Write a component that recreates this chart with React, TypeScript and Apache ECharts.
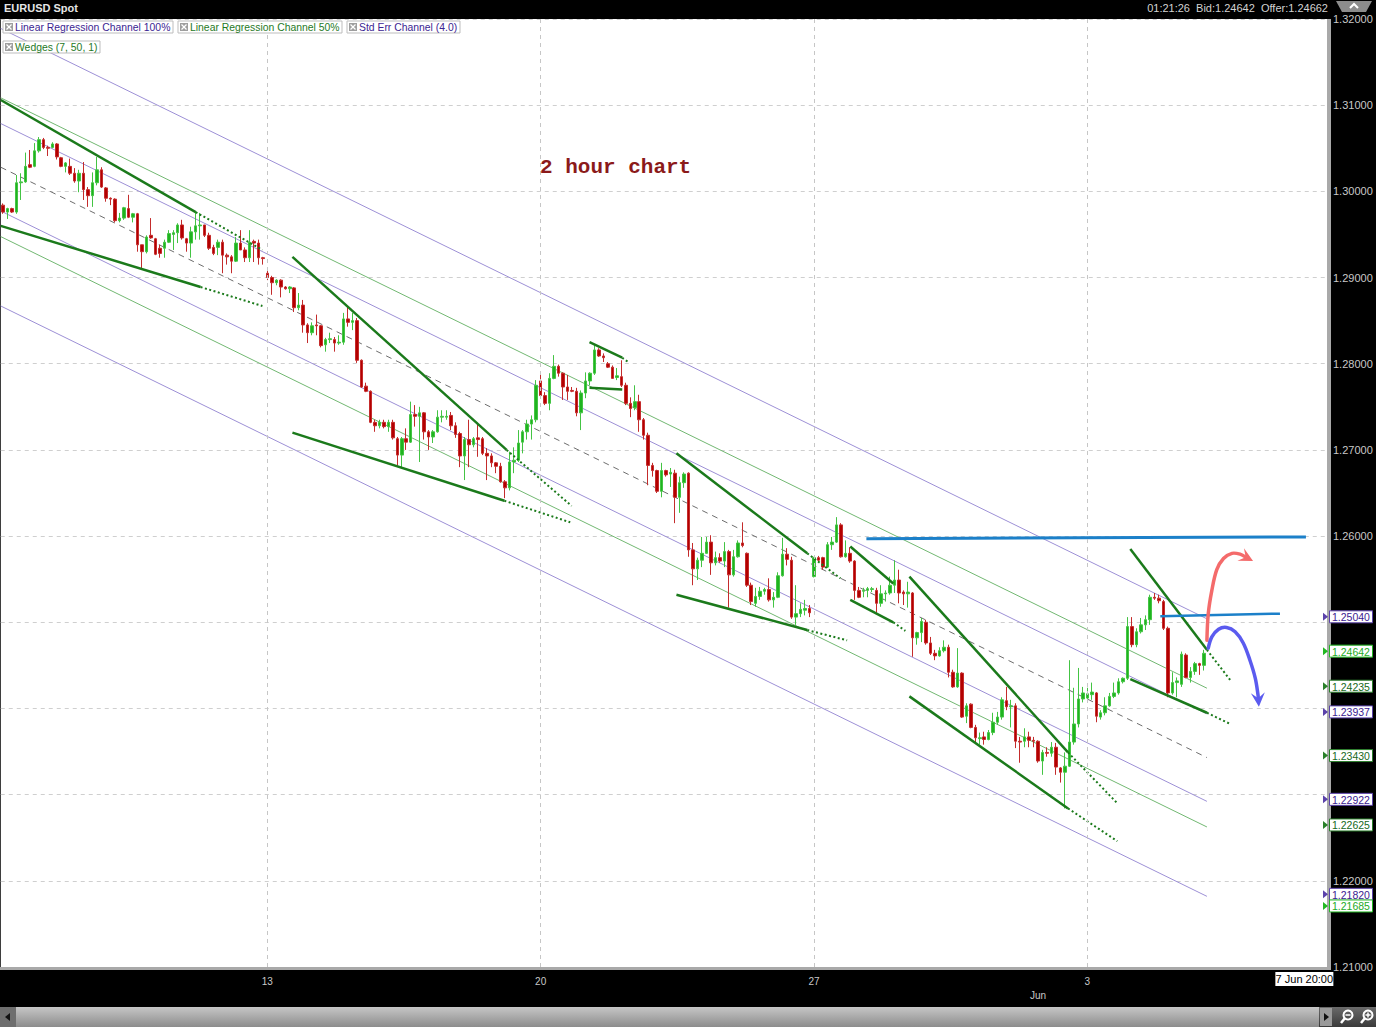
import React, { useEffect, useRef } from "react";
import * as echarts from "echarts";

// ---------- candles: [open, close, low, high] (2-hour EURUSD) ----------
const week1: number[][] = [
  [1.2984,1.2976,1.2974,1.2986],[1.2976,1.2980,1.2968,1.2981],[1.2980,1.2976,1.2975,1.2981],[1.2976,1.3010,1.2974,1.3019],
  [1.3010,1.3011,1.2990,1.3021],[1.3011,1.3029,1.3010,1.3045],[1.3031,1.3028,1.3027,1.3048],[1.3029,1.3047,1.3028,1.3056],
  [1.3047,1.3060,1.3045,1.3063],[1.3060,1.3051,1.3049,1.3062],[1.3051,1.3050,1.3041,1.3053],[1.3051,1.3055,1.3050,1.3057],
  [1.3055,1.3040,1.3037,1.3056],[1.3039,1.3029,1.3028,1.3040],[1.3029,1.3033,1.3022,1.3034],[1.3029,1.3021,1.3019,1.3038],
  [1.3021,1.3012,1.3010,1.3027],[1.3012,1.3021,1.2999,1.3025],[1.3021,1.3002,1.2990,1.3034],[1.3002,1.2995,1.2982,1.3005],
  [1.2995,1.3010,1.2982,1.3022],[1.3010,1.3025,1.3007,1.3040],[1.3025,1.3005,1.3004,1.3028],[1.3004,1.2992,1.2988,1.3005],
  [1.2992,1.2991,1.2984,1.2993],[1.2991,1.2966,1.2964,1.2992],[1.2966,1.2969,1.2964,1.2975],[1.2969,1.2981,1.2967,1.2982],
  [1.2980,1.2970,1.2969,1.2996],[1.2970,1.2974,1.2964,1.2975],[1.2974,1.2938,1.2930,1.2975],[1.2938,1.2930,1.2911,1.2938],
  [1.2930,1.2947,1.2928,1.2949],[1.2949,1.2946,1.2945,1.2969],[1.2945,1.2927,1.2926,1.2946],[1.2934,1.2928,1.2923,1.2938],
  [1.2934,1.2941,1.2923,1.2944],[1.2941,1.2951,1.2940,1.2955],[1.2950,1.2952,1.2932,1.2955],[1.2952,1.2961,1.2940,1.2963],
  [1.2961,1.2946,1.2944,1.2967],[1.2945,1.2940,1.2930,1.2946],[1.2940,1.2953,1.2923,1.2959],[1.2953,1.2960,1.2944,1.2976],
  [1.2960,1.2961,1.2944,1.2975],[1.2961,1.2949,1.2947,1.2961],[1.2949,1.2934,1.2932,1.2952],[1.2935,1.2928,1.2926,1.2938],
  [1.2935,1.2941,1.2926,1.2944],[1.2941,1.2926,1.2905,1.2944],[1.2926,1.2924,1.2915,1.2928],[1.2924,1.2919,1.2905,1.2926],
  [1.2919,1.2940,1.2918,1.2947],[1.2940,1.2932,1.2932,1.2955],[1.2932,1.2923,1.2918,1.2935],[1.2923,1.2941,1.2918,1.2955],
  [1.2942,1.2940,1.2918,1.2944],[1.2940,1.2923,1.2915,1.2944],[1.2923,1.2922,1.2915,1.2924],
];
const week2: number[][] = [
  [1.2905,1.2900,1.2897,1.2908],[1.2900,1.2894,1.2880,1.2902],[1.2894,1.2897,1.2891,1.2898],[1.2897,1.2889,1.2877,1.2898],
  [1.2889,1.2887,1.2886,1.2890],[1.2887,1.2889,1.2882,1.2890],[1.2888,1.2865,1.2860,1.2889],[1.2865,1.2868,1.2862,1.2882],
  [1.2868,1.2845,1.2836,1.2874],[1.2845,1.2836,1.2824,1.2847],[1.2836,1.2844,1.2833,1.2848],[1.2845,1.2844,1.2833,1.2857],
  [1.2844,1.2821,1.2819,1.2845],[1.2822,1.2828,1.2814,1.2830],[1.2828,1.2829,1.2824,1.2836],[1.2828,1.2824,1.2814,1.2831],
  [1.2824,1.2825,1.2822,1.2833],[1.2825,1.2852,1.2822,1.2859],[1.2852,1.2848,1.2843,1.2866],[1.2848,1.2850,1.2839,1.2859],
  [1.2850,1.2804,1.2801,1.2853],[1.2804,1.2773,1.2772,1.2805],[1.2774,1.2768,1.2767,1.2778],[1.2768,1.2732,1.2731,1.2769],
  [1.2732,1.2728,1.2721,1.2735],[1.2728,1.2732,1.2725,1.2735],[1.2732,1.2727,1.2725,1.2735],[1.2727,1.2732,1.2721,1.2735],
  [1.2732,1.2714,1.2712,1.2735],[1.2713,1.2694,1.2682,1.2715],[1.2694,1.2713,1.2680,1.2715],[1.2713,1.2709,1.2700,1.2725],
  [1.2709,1.2741,1.2708,1.2756],[1.2741,1.2739,1.2727,1.2752],[1.2739,1.2743,1.2686,1.2750],[1.2743,1.2721,1.2712,1.2744],
  [1.2721,1.2715,1.2700,1.2723],[1.2715,1.2721,1.2708,1.2723],[1.2721,1.2738,1.2720,1.2746],[1.2738,1.2739,1.2732,1.2746],
  [1.2738,1.2739,1.2735,1.2746],[1.2740,1.2728,1.2723,1.2744],[1.2728,1.2718,1.2714,1.2732],[1.2719,1.2693,1.2680,1.2721],
  [1.2693,1.2712,1.2665,1.2715],[1.2712,1.2706,1.2680,1.2735],[1.2706,1.2713,1.2703,1.2715],[1.2714,1.2712,1.2692,1.2731],
  [1.2713,1.2696,1.2694,1.2715],[1.2696,1.2693,1.2665,1.2702],[1.2693,1.2685,1.2680,1.2696],[1.2685,1.2681,1.2673,1.2686],
  [1.2681,1.2663,1.2662,1.2685],[1.2663,1.2656,1.2644,1.2665],[1.2656,1.2686,1.2653,1.2698],[1.2686,1.2688,1.2673,1.2703],
  [1.2688,1.2708,1.2686,1.2723],[1.2709,1.2721,1.2696,1.2723],[1.2721,1.2730,1.2712,1.2735],[1.2730,1.2735,1.2712,1.2740],
  [1.2735,1.2775,1.2732,1.2781],
];
const week3: number[][] = [
  [1.2780,1.2763,1.2760,1.2790],[1.2763,1.2754,1.2752,1.2767],[1.2754,1.2783,1.2746,1.2789],[1.2783,1.2797,1.2782,1.2810],
  [1.2797,1.2789,1.2785,1.2799],[1.2789,1.2773,1.2758,1.2790],[1.2773,1.2768,1.2758,1.2787],[1.2769,1.2768,1.2767,1.2773],
  [1.2768,1.2743,1.2739,1.2772],[1.2743,1.2766,1.2723,1.2769],[1.2766,1.2780,1.2760,1.2790],[1.2780,1.2789,1.2775,1.2790],
  [1.2789,1.2816,1.2787,1.2822],[1.2816,1.2809,1.2808,1.2818],[1.2809,1.2807,1.2802,1.2812],[1.2800,1.2796,1.2795,1.2802],
  [1.2796,1.2783,1.2783,1.2798],[1.2784,1.2786,1.2781,1.2795],[1.2785,1.2775,1.2773,1.2804],[1.2775,1.2754,1.2752,1.2778],
  [1.2754,1.2748,1.2738,1.2761],[1.2749,1.2756,1.2746,1.2775],[1.2756,1.2735,1.2721,1.2764],[1.2735,1.2717,1.2712,1.2737],
  [1.2717,1.2682,1.2659,1.2720],[1.2682,1.2676,1.2669,1.2685],[1.2676,1.2652,1.2650,1.2677],[1.2652,1.2676,1.2645,1.2685],
  [1.2676,1.2671,1.2669,1.2677],[1.2672,1.2674,1.2657,1.2679],[1.2673,1.2645,1.2615,1.2677],[1.2645,1.2662,1.2627,1.2669],
  [1.2662,1.2672,1.2656,1.2674],[1.2673,1.2584,1.2576,1.2674],[1.2584,1.2562,1.2543,1.2592],[1.2562,1.2572,1.2549,1.2575],
  [1.2572,1.2580,1.2564,1.2599],[1.2580,1.2593,1.2581,1.2599],[1.2593,1.2569,1.2555,1.2601],[1.2569,1.2575,1.2566,1.2582],
  [1.2575,1.2571,1.2569,1.2580],[1.2571,1.2582,1.2564,1.2593],[1.2582,1.2555,1.2517,1.2584],[1.2555,1.2576,1.2553,1.2584],
  [1.2576,1.2592,1.2575,1.2595],[1.2592,1.2589,1.2587,1.2616],[1.2580,1.2543,1.2541,1.2581],[1.2543,1.2524,1.2520,1.2546],
  [1.2522,1.2530,1.2518,1.2540],[1.2530,1.2536,1.2526,1.2541],[1.2536,1.2538,1.2532,1.2540],[1.2538,1.2526,1.2524,1.2551],
  [1.2526,1.2529,1.2517,1.2535],[1.2529,1.2554,1.2528,1.2558],[1.2554,1.2579,1.2553,1.2598],[1.2579,1.2573,1.2566,1.2586],
  [1.2572,1.2506,1.2504,1.2576],[1.2506,1.2510,1.2497,1.2543],[1.2510,1.2515,1.2506,1.2522],[1.2514,1.2516,1.2508,1.2526],
  [1.2516,1.2511,1.2506,1.2520],
];
const week4: number[][] = [
  [1.2553,1.2575,1.2552,1.2576],[1.2575,1.2572,1.2570,1.2577],[1.2575,1.2564,1.2561,1.2576],[1.2564,1.2590,1.2563,1.2593],
  [1.2590,1.2593,1.2584,1.2599],[1.2593,1.2613,1.2592,1.2622],[1.2613,1.2576,1.2575,1.2615],[1.2576,1.2580,1.2575,1.2595],
  [1.2580,1.2571,1.2569,1.2587],[1.2571,1.2537,1.2526,1.2572],[1.2537,1.2529,1.2528,1.2541],[1.2536,1.2537,1.2529,1.2540],
  [1.2537,1.2539,1.2529,1.2541],[1.2538,1.2539,1.2535,1.2541],[1.2537,1.2522,1.2511,1.2540],[1.2522,1.2533,1.2518,1.2543],
  [1.2533,1.2534,1.2524,1.2537],[1.2534,1.2543,1.2532,1.2553],[1.2543,1.2549,1.2534,1.2572],[1.2549,1.2534,1.2522,1.2561],
  [1.2535,1.2533,1.2520,1.2537],[1.2533,1.2535,1.2517,1.2547],[1.2534,1.2482,1.2460,1.2535],[1.2482,1.2488,1.2474,1.2489],
  [1.2488,1.2501,1.2477,1.2505],[1.2500,1.2476,1.2474,1.2503],[1.2476,1.2464,1.2462,1.2483],[1.2464,1.2461,1.2456,1.2468],
  [1.2461,1.2467,1.2460,1.2471],[1.2467,1.2471,1.2465,1.2479],[1.2471,1.2442,1.2436,1.2474],[1.2442,1.2425,1.2424,1.2445],
  [1.2425,1.2441,1.2424,1.2470],[1.2441,1.2390,1.2389,1.2442],[1.2391,1.2403,1.2383,1.2406],[1.2405,1.2378,1.2377,1.2406],
  [1.2378,1.2366,1.2361,1.2381],[1.2365,1.2366,1.2358,1.2372],[1.2367,1.2364,1.2358,1.2373],[1.2364,1.2372,1.2363,1.2375],
  [1.2372,1.2384,1.2369,1.2395],[1.2384,1.2390,1.2381,1.2396],[1.2390,1.2410,1.2387,1.2413],[1.2409,1.2402,1.2398,1.2425],
  [1.2402,1.2403,1.2378,1.2410],[1.2403,1.2362,1.2354,1.2406],[1.2362,1.2361,1.2337,1.2367],[1.2362,1.2367,1.2355,1.2377],
  [1.2367,1.2363,1.2355,1.2373],[1.2363,1.2362,1.2355,1.2367],[1.2362,1.2339,1.2337,1.2363],[1.2339,1.2349,1.2323,1.2352],
  [1.2349,1.2348,1.2344,1.2355],[1.2348,1.2355,1.2344,1.2361],[1.2355,1.2332,1.2323,1.2360],[1.2331,1.2326,1.2314,1.2332],
  [1.2326,1.2333,1.2284,1.2349],[1.2333,1.2361,1.2332,1.2456],[1.2361,1.2382,1.2358,1.2424],[1.2382,1.2411,1.2378,1.2447],
  [1.2411,1.2418,1.2407,1.2425],
];
const week5: number[][] = [
  [1.2412,1.2417,1.2407,1.2424],[1.2416,1.2419,1.2410,1.2430],[1.2418,1.2391,1.2384,1.2419],[1.2390,1.2395,1.2387,1.2398],
  [1.2395,1.2403,1.2392,1.2413],[1.2403,1.2414,1.2402,1.2418],[1.2414,1.2418,1.2412,1.2430],[1.2418,1.2431,1.2416,1.2435],
  [1.2431,1.2435,1.2429,1.2436],[1.2435,1.2495,1.2433,1.2506],[1.2495,1.2474,1.2471,1.2506],[1.2474,1.2489,1.2471,1.2493],
  [1.2489,1.2497,1.2487,1.2505],[1.2497,1.2503,1.2491,1.2508],[1.2503,1.2529,1.2497,1.2532],[1.2529,1.2528,1.2526,1.2534],
  [1.2528,1.2525,1.2522,1.2532],[1.2524,1.2493,1.2491,1.2526],[1.2493,1.2418,1.2413,1.2495],[1.2418,1.2430,1.2416,1.2442],
  [1.2430,1.2432,1.2413,1.2436],[1.2428,1.2463,1.2425,1.2466],[1.2462,1.2436,1.2435,1.2464],[1.2436,1.2443,1.2430,1.2448],
  [1.2443,1.2452,1.2439,1.2454],[1.2452,1.2450,1.2439,1.2453],[1.2450,1.2464,1.2444,1.2468],
];

// ---------- axis ----------
const SLOT_COUNT = 296;
const weekStartIdx = [59, 120, 181, 242];
const weekLabels = ["13", "20", "27", "3"];
const monthIdx = 231;
const monthLabel = "Jun";
const cursorIdx = 290;
const cursorLabel = "7 Jun 20:00";
const priceMin = 1.21;
const priceMax = 1.32;
const priceStep = 0.01;

// ---------- regression channels ----------
const channelFirstIdx = -0.5;
const channelLastIdx = 268.7;
const channelDrift = 0.0685;
const channelEnds = [1.2504, 1.24235, 1.23937, 1.2343, 1.22922, 1.22625, 1.2182];
const channelKinds = ["outer", "half", "stderr", "mid", "stderr", "half", "outer"];

// ---------- wedges (index, price) ----------
const wedgeSolid = [
  [[-0.5, 1.3106], [43, 1.2976]],
  [[-0.5, 1.296], [44.1, 1.2889]],
  [[64.6, 1.2924], [112.4, 1.27]],
  [[64.6, 1.272], [111.9, 1.2641]],
  [[130.9, 1.2825], [138.2, 1.2807]],
  [[130.9, 1.2772], [138.2, 1.277]],
  [[150.3, 1.2696], [179.5, 1.258]],
  [[150.3, 1.2532], [179.5, 1.2491]],
  [[189.1, 1.2588], [198.7, 1.2545]],
  [[189.1, 1.2526], [198.7, 1.25]],
  [[202.3, 1.2553], [237.7, 1.2349]],
  [[202.3, 1.2414], [237.7, 1.2284]],
  [[251.6, 1.2585], [268.7, 1.2468]],
  [[251.6, 1.2434], [268.7, 1.2395]],
];
const wedgeDotted = [
  [[43, 1.2976], [57.9, 1.2932]],
  [[44.1, 1.2889], [57.9, 1.2867]],
  [[112.4, 1.27], [126.9, 1.2635]],
  [[111.9, 1.2641], [126.6, 1.2616]],
  [[138.2, 1.2807], [139.8, 1.2801]],
  [[179.5, 1.258], [186.9, 1.2551]],
  [[179.5, 1.2491], [188.4, 1.2479]],
  [[198.7, 1.25], [201.4, 1.249]],
  [[237.7, 1.2349], [248.7, 1.229]],
  [[237.7, 1.2284], [248.7, 1.2246]],
  [[268.7, 1.2468], [273.9, 1.2433]],
  [[268.7, 1.2395], [273.9, 1.2382]],
];

// ---------- horizontal levels & scenario arrows ----------
const blueLevels = [
  [[192.7, 1.2597], [290.8, 1.2599]],
  [[258.3, 1.2507], [285, 1.251]],
];
const blueWidths = [3, 2.5];
const upArrow = [[268.7, 1.2479], [269.0, 1.251], [269.8, 1.2537], [270.9, 1.2561], [272.4, 1.2574], [274.3, 1.258], [276.1, 1.2579], [279.0, 1.2571]];
const downArrow = [[269.0, 1.247], [269.8, 1.2483], [271.3, 1.2492], [273.1, 1.2494], [275.0, 1.2489], [276.8, 1.2476], [278.3, 1.2456], [279.5, 1.2435], [280.1, 1.2416], [280.3, 1.2402]];

// ---------- right-edge price markers ----------
const markerValues = [1.2504, 1.24642, 1.24235, 1.23937, 1.2343, 1.22922, 1.22625, 1.2182, 1.21685];
const markerKinds = ["purple", "live", "green", "purple", "green", "purple", "green", "purple", "live"];

const headerTime = "01:21:26";
const bid = 1.24642;
const offer = 1.24662;

const FONT = "'Liberation Sans', Arial, sans-serif";
const PURPLE_LINE = "#9d90d6";
const GREEN_LINE = "#72b872";
const MID_LINE = "#6e6e6e";
const WEDGE = "#1b7a1b";

const markerStyle: Record<string, { text: string; border: string }> = {
  purple: { text: "#3b2190", border: "#5b42aa" },
  green: { text: "#17681b", border: "#2a7f2a" },
  live: { text: "#1eaa1e", border: "#22b822" },
};

export default function App() {
  const ref = useRef<HTMLDivElement>(null);

  useEffect(() => {
    document.body.style.margin = "0";
    const chart = echarts.init(ref.current as HTMLDivElement, undefined, { renderer: "svg" });

    const candles = [...week1, ...week2, ...week3, ...week4, ...week5];
    const categories = Array.from({ length: SLOT_COUNT }, (_, i) => "s" + i);
    const labelAt = (i: number) => {
      const w = weekStartIdx.indexOf(i);
      if (w >= 0) return weekLabels[w];
      if (i === monthIdx) return "\n" + monthLabel;
      return "";
    };
    // axis labels that the price markers cover in the reference
    const coveredByMarker = (v: number) => markerValues.some((m) => Math.abs(m - v) < 0.001);

    const channelSeries = channelEnds.map((end, i) => {
      const kind = channelKinds[i];
      const color = kind === "mid" ? MID_LINE : kind === "half" ? GREEN_LINE : PURPLE_LINE;
      const s: any = {
        type: "line",
        xAxisIndex: 1,
        yAxisIndex: 0,
        silent: true,
        symbol: "none",
        z: 1,
        data: [[channelFirstIdx, end + channelDrift], [channelLastIdx, end]],
        lineStyle: { color, width: 1, type: kind === "mid" ? [6, 5] : "solid" },
      };
      if (i === 0) {
        s.markLine = {
          silent: true,
          symbol: ["none", "none"],
          label: { show: false },
          lineStyle: { color: "#c6c6c6", type: [4, 4], width: 1 },
          data: weekStartIdx.map((w) => ({ xAxis: w })),
        };
      }
      return s;
    });

    const wedgeSeries = [
      ...wedgeSolid.map((d) => ({
        type: "line", xAxisIndex: 1, yAxisIndex: 0, silent: true, symbol: "none", z: 4, data: d,
        lineStyle: { color: WEDGE, width: 2.5 },
      })),
      ...wedgeDotted.map((d) => ({
        type: "line", xAxisIndex: 1, yAxisIndex: 0, silent: true, symbol: "none", z: 4, data: d,
        lineStyle: { color: WEDGE, width: 2, type: [2, 2.5] },
      })),
    ];

    const blueSeries = blueLevels.map((d, i) => ({
      type: "line", xAxisIndex: 1, yAxisIndex: 0, silent: true, symbol: "none", z: 4, data: d,
      lineStyle: { color: "#1c80c9", width: blueWidths[i] },
    }));

    chart.setOption({
      animation: false,
      backgroundColor: "#000000",
      textStyle: { fontFamily: FONT },
      grid: { left: 0, right: 49, top: 19, bottom: 60, show: true, backgroundColor: "#ffffff", borderWidth: 0 },
      xAxis: [
        {
          type: "category",
          data: categories,
          boundaryGap: true,
          axisLine: { show: false },
          axisTick: { show: false },
          splitLine: { show: false },
          axisLabel: {
            interval: 0,
            color: "#c8c8c8",
            fontSize: 10,
            fontFamily: FONT,
            margin: 7,
            lineHeight: 14,
            formatter: (_v: string, i: number) => labelAt(i),
          },
        },
        { type: "value", min: -0.5, max: SLOT_COUNT - 0.5, show: false },
      ],
      yAxis: {
        type: "value",
        position: "right",
        min: priceMin,
        max: priceMax,
        interval: priceStep,
        axisLine: { show: false },
        axisTick: { show: false },
        axisLabel: {
          color: "#c8c8c8", fontSize: 11, fontFamily: FONT, margin: 6,
          formatter: (v: number) => (coveredByMarker(v) ? "" : v.toFixed(5)),
        },
        splitLine: { lineStyle: { color: "#cfcfcf", type: [4, 4], width: 1 } },
      },
      series: [
        ...channelSeries,
        {
          type: "candlestick",
          xAxisIndex: 0,
          yAxisIndex: 0,
          silent: true,
          z: 3,
          barWidth: 3,
          data: candles,
          itemStyle: { color: "#1fb41f", color0: "#b30000", borderColor: "#44c444", borderColor0: "#c42c2c", borderWidth: 1 },
        },
        ...wedgeSeries,
        ...blueSeries,
      ],
    });

    const toPx = (p: number[]) => chart.convertToPixel({ xAxisIndex: 1, yAxisIndex: 0 } as any, p) as number[];
    const gfx: any[] = [];
    const Z = 20;

    // frame
    gfx.push({ type: "rect", z: Z, shape: { x: 1327, y: 19, width: 4, height: 951 }, style: { fill: "#a9a9a9" } });
    gfx.push({ type: "rect", z: Z, shape: { x: 0, y: 967, width: 1331, height: 3 }, style: { fill: "#a9a9a9" } });

    // header
    gfx.push({ type: "text", z: Z, x: 4, y: 8, style: { text: "EURUSD Spot", fill: "#e6e6e6", fontSize: 11, fontWeight: "bold", fontFamily: FONT, verticalAlign: "middle" } });
    gfx.push({ type: "text", z: Z, x: 1328, y: 8, style: { text: `${headerTime}  Bid:${bid.toFixed(5)}  Offer:${offer.toFixed(5)}`, fill: "#d2d2d2", fontSize: 11, fontFamily: FONT, align: "right", verticalAlign: "middle" } });
    gfx.push({ type: "polygon", z: Z, shape: { points: [[1336, 1], [1372, 1], [1366, 12], [1342, 12]] }, style: { fill: "#8c8c8c" } });
    gfx.push({ type: "polyline", z: Z, shape: { points: [[1350, 8], [1354, 4], [1358, 8]] }, style: { stroke: "#ffffff", lineWidth: 2, fill: null } });

    // legend boxes
    const legendBox = (x: number, y: number, w: number, text: string, color: string) => {
      gfx.push({ type: "rect", z: Z, shape: { x, y, width: w, height: 12 }, style: { fill: "#ffffff", stroke: "#bdbdbd", lineWidth: 1 } });
      gfx.push({ type: "rect", z: Z, shape: { x: x + 2, y: y + 2, width: 8, height: 8 }, style: { fill: "#9e9e9e" } });
      gfx.push({ type: "line", z: Z, shape: { x1: x + 3.5, y1: y + 3.5, x2: x + 8.5, y2: y + 8.5 }, style: { stroke: "#ffffff", lineWidth: 1.3 } });
      gfx.push({ type: "line", z: Z, shape: { x1: x + 8.5, y1: y + 3.5, x2: x + 3.5, y2: y + 8.5 }, style: { stroke: "#ffffff", lineWidth: 1.3 } });
      gfx.push({ type: "text", z: Z, x: x + 12, y: y + 6.5, style: { text, fill: color, fontSize: 10.4, fontFamily: FONT, verticalAlign: "middle" } });
    };
    legendBox(3, 21, 170, "Linear Regression Channel 100%", "#3b2592");
    legendBox(178, 21, 164, "Linear Regression Channel 50%", "#1f7a1f");
    legendBox(347, 21, 113, "Std Err Channel (4.0)", "#3b2592");
    legendBox(3, 41, 97, "Wedges (7, 50, 1)", "#1f7a1f");

    // chart title annotation
    gfx.push({ type: "text", z: Z, x: 540, y: 167, style: { text: "2 hour chart", fill: "#8b1a1a", fontSize: 21, fontWeight: "bold", fontFamily: "'Liberation Mono', 'Courier New', monospace", verticalAlign: "middle" } });

    // scenario arrows
    const arrow = (pts: number[][], color: string, len: number, half: number) => {
      const px = pts.map(toPx);
      const tip = px[px.length - 1];
      const prev = px[px.length - 2];
      const dx = tip[0] - prev[0];
      const dy = tip[1] - prev[1];
      const d = Math.hypot(dx, dy) || 1;
      const ux = dx / d, uy = dy / d;
      const nx = -uy, ny = ux;
      const base = [tip[0] - ux * len, tip[1] - uy * len];
      const notch = [tip[0] - ux * len * 0.6, tip[1] - uy * len * 0.6];
      const linePts = px.slice(0, -1).concat([notch]);
      gfx.push({ type: "polyline", z: Z, shape: { points: linePts, smooth: 0.35 }, style: { stroke: color, lineWidth: 3.5, fill: null, lineCap: "round" } });
      gfx.push({
        type: "polygon", z: Z,
        shape: { points: [tip, [base[0] + nx * half, base[1] + ny * half], notch, [base[0] - nx * half, base[1] - ny * half]] },
        style: { fill: color },
      });
    };
    arrow(upArrow, "#f46b6b", 14, 7);
    arrow(downArrow, "#5b5bef", 14, 7);

    // right price markers
    markerValues.forEach((v, i) => {
      const st = markerStyle[markerKinds[i]];
      const y = toPx([0, v])[1] - 2;
      gfx.push({ type: "polygon", z: Z, shape: { points: [[1323, y - 4], [1328, y], [1323, y + 4]] }, style: { fill: st.border } });
      gfx.push({ type: "rect", z: Z, shape: { x: 1329.5, y: y - 6, width: 43, height: 12 }, style: { fill: "#ffffff", stroke: st.border, lineWidth: 1 } });
      gfx.push({ type: "text", z: Z, x: 1332, y: y + 0.5, style: { text: v.toFixed(5), fill: st.text, fontSize: 10.5, fontFamily: FONT, verticalAlign: "middle" } });
    });

    // cursor time label
    const cx = toPx([cursorIdx, priceMin])[0];
    gfx.push({ type: "rect", z: Z, shape: { x: cx - 27, y: 972, width: 58, height: 14 }, style: { fill: "#ffffff" } });
    gfx.push({ type: "text", z: Z, x: cx + 2, y: 979, style: { text: cursorLabel, fill: "#000000", fontSize: 11, fontFamily: FONT, align: "center", verticalAlign: "middle" } });

    // bottom scroll bar
    gfx.push({
      type: "rect", z: Z, shape: { x: 0, y: 1007, width: 1376, height: 20 },
      style: { fill: new echarts.graphic.LinearGradient(0, 0, 0, 1, [{ offset: 0, color: "#c6c6c6" }, { offset: 1, color: "#8c8c8c" }]) },
    });
    gfx.push({ type: "rect", z: Z, shape: { x: 0, y: 1007, width: 16, height: 20 }, style: { fill: "#6e6e6e" } });
    gfx.push({ type: "polygon", z: Z, shape: { points: [[5, 1017], [10, 1013], [10, 1021]] }, style: { fill: "#111111" } });
    gfx.push({
      type: "rect", z: Z, shape: { x: 1319, y: 1007, width: 57, height: 20 },
      style: { fill: new echarts.graphic.LinearGradient(0, 0, 0, 1, [{ offset: 0, color: "#6a6a6a" }, { offset: 1, color: "#3a3a3a" }]) },
    });
    gfx.push({ type: "rect", z: Z, shape: { x: 1320, y: 1008, width: 12, height: 18 }, style: { fill: "#9a9a9a" } });
    gfx.push({ type: "polygon", z: Z, shape: { points: [[1324, 1013], [1329, 1017], [1324, 1021]] }, style: { fill: "#111111" } });
    [1348, 1368].forEach((mx, k) => {
      gfx.push({ type: "circle", z: Z, shape: { cx: mx, cy: 1015, r: 4.5 }, style: { fill: null, stroke: "#ffffff", lineWidth: 2 } });
      gfx.push({ type: "line", z: Z, shape: { x1: mx - 3, y1: 1018, x2: mx - 7, y2: 1023 }, style: { stroke: "#ffffff", lineWidth: 2.5 } });
      gfx.push({ type: "line", z: Z, shape: { x1: mx - 2.5, y1: 1015, x2: mx + 2.5, y2: 1015 }, style: { stroke: "#ffffff", lineWidth: 1.5 } });
      if (k === 1) gfx.push({ type: "line", z: Z, shape: { x1: mx, y1: 1012.5, x2: mx, y2: 1017.5 }, style: { stroke: "#ffffff", lineWidth: 1.5 } });
    });

    chart.setOption({ graphic: gfx });

    return () => chart.dispose();
  }, []);

  return <div ref={ref} style={{ width: 1376, height: 1027 }} />;
}
